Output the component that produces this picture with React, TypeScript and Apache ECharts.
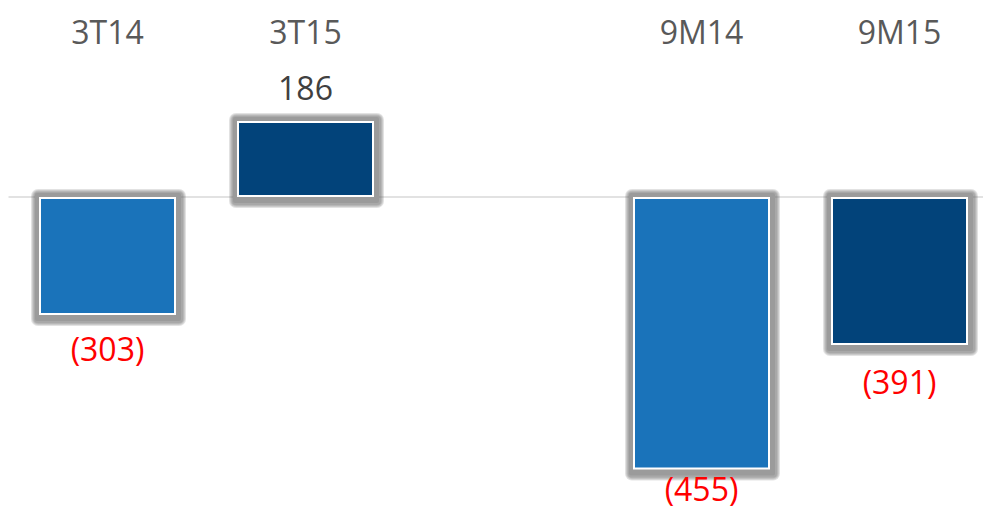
import React, { useEffect, useRef } from "react";
import * as echarts from "echarts";

const categories = ["3T14", "3T15", "", "9M14", "9M15"];
// bar lengths as drawn in the picture (chart units)
const barValues: (number | null)[] = [-303, 195, null, -700, -380];
// reported values shown in the labels
const reportedValues: (number | null)[] = [-303, 186, null, -455, -391];
const barColors = ["#1a73ba", "#02437a", "#1a73ba", "#1a73ba", "#02437a"];
const labelDistances = [18, 18, 0, 3, 21];

function fmt(v: number | null): string {
  if (v === null) return "";
  return v < 0 ? `(${Math.abs(v)})` : String(v);
}

const BAR_W = 137;

export default function App() {
  const ref = useRef<HTMLDivElement>(null);
  useEffect(() => {
    if (!ref.current) return;
    const chart = echarts.init(ref.current, null, { renderer: "svg" });
    const font = "'Open Sans', 'Noto Sans', sans-serif";
    const haloData = barValues
      .map((v, i) => (v === null ? null : [i, v]))
      .filter((d) => d !== null);
    chart.setOption({
      animation: false,
      grid: { left: 8.5, right: -15.5, top: 49, bottom: 0.5, outerBoundsMode: "none" },
      xAxis: {
        type: "category",
        position: "top",
        data: categories,
        axisLine: { show: false },
        axisTick: { show: false },
        axisLabel: {
          color: "#595959",
          fontSize: 32,
          fontFamily: font,
          margin: 2,
          interval: 0,
        },
        splitLine: { show: false },
      },
      yAxis: {
        type: "value",
        min: -800,
        max: 380,
        show: false,
        splitLine: { show: false },
      },
      series: [
        {
          type: "custom",
          z: 1,
          silent: true,
          data: haloData,
          renderItem: (params: any, api: any) => {
            const idx = api.value(0);
            const val = api.value(1);
            const p0 = api.coord([idx, 0]);
            const p1 = api.coord([idx, val]);
            const top = Math.min(p0[1], p1[1]);
            const h = Math.abs(p1[1] - p0[1]);
            const x = p0[0] - BAR_W / 2;
            const layers = [9, 8, 7, 6];
            const children: any[] = layers.map((e) => ({
              type: "rect",
              shape: { x: x - e + 1, y: top - e + 1, width: BAR_W + 2 * e, height: h + 2 * e + 1, r: e - 2 },
              style: { fill: "rgba(110,110,110,0.2)" },
            }));
            children.push({
              type: "rect",
              shape: { x: x - 4, y: top - 4, width: BAR_W + 9, height: h + 10, r: 2 },
              style: { fill: "#9b9b9b" },
            });
            return { type: "group", children };
          },
        },
        {
          type: "bar",
          z: 2,
          barWidth: BAR_W,
          data: barValues.map((v, i) => ({
            value: v,
            itemStyle: {
              color: barColors[i],
              borderColor: "#ffffff",
              borderWidth: 2,
            },
            label: {
              show: v !== null,
              position: v !== null && v < 0 ? "bottom" : "top",
              distance: labelDistances[i],
              formatter: () => fmt(reportedValues[i]),
              color: reportedValues[i] !== null && (reportedValues[i] as number) < 0 ? "#ff0000" : "#404040",
              fontSize: 32,
              fontFamily: font,
            },
          })),
          markLine: {
            silent: true,
            symbol: "none",
            label: { show: false },
            lineStyle: { color: "#d9d9d9", width: 1.5, type: "solid" },
            data: [{ yAxis: 0 }],
            z: 0,
          },
        },
      ],
    });
    return () => chart.dispose();
  }, []);
  return <div ref={ref} style={{ width: 983, height: 509, position: "absolute", left: 0, top: 0 }} />;
}
